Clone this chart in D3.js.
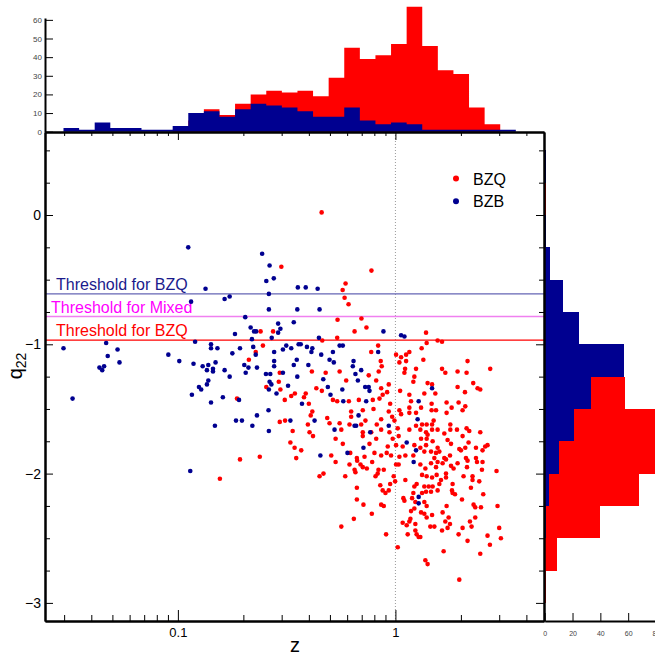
<!DOCTYPE html>
<html>
<head>
<meta charset="utf-8">
<script src="https://cdn.jsdelivr.net/npm/d3@7"></script>
<style>
  body { margin: 0; background: #fff; }
  svg { display: block; font-family: "Liberation Sans", Arial, Helvetica, sans-serif; }
</style>
</head>
<body>
<div id="vis"></div>
<script>
const FRAME_WIDTH = 655;
const FRAME_HEIGHT = 656;
const MAIN = {left: 45, right: 544, top: 132, bottom: 621};

// scatter data: [z, q22]
const bzqPoints = [
  [0.458,0.02],[0.299,-0.40],[0.240,-0.90],[0.274,-0.90],[0.228,-1.06],[0.246,-1.01],[0.212,-1.12],[0.294,-1.22],[0.255,-1.33],[0.291,-1.29],
  [0.296,-1.35],[0.310,-1.43],[0.332,-1.40],[0.345,-1.38],[0.187,-1.42],[0.294,-1.60],[0.311,-1.59],[0.337,-1.67],[0.329,-1.76],[0.344,-1.80],
  [0.350,-1.88],[0.193,-1.89],[0.238,-1.87],[0.156,-2.04],
  [0.590,-0.53],[0.572,-0.58],[0.584,-0.64],[0.609,-0.69],[0.776,-0.43],[0.698,-0.80],[0.542,-0.81],[0.736,-0.87],
  [0.461,-0.97],[0.540,-0.95],[0.649,-0.90],[0.833,-1.01],[0.774,-1.06],[1.007,-1.08],[1.062,-1.10],[1.120,-1.08],[1.159,-1.06],[1.043,-1.14],
  [1.120,-1.13],[0.856,-1.13],[0.865,-1.17],[1.108,-1.19],[1.244,-1.19],[0.413,-1.21],[0.478,-1.22],[0.554,-1.21],[0.838,-1.21],[0.754,-1.24],
  [1.100,-1.22],[1.222,-1.25],[0.594,-1.28],[0.816,-1.28],[0.932,-1.31],[1.209,-1.29],[0.433,-1.34],[0.459,-1.36],[0.860,-1.34],[0.916,-1.37],
  [1.051,-1.36],[0.387,-1.38],[0.380,-1.41],[0.516,-1.43],[0.540,-1.44],[0.611,-1.44],[0.679,-1.43],[0.787,-1.43],[0.845,-1.42],[0.874,-1.39],
  [1.159,-1.39],[1.180,-1.44],[0.400,-1.46],[0.793,-1.50],[0.946,-1.46],[1.043,-1.51],[1.159,-1.49],[0.415,-1.52],[0.408,-1.55],[0.626,-1.52],
  [0.708,-1.51],[0.932,-1.52],[1.062,-1.54],[1.159,-1.53],[1.244,-1.53],[0.626,-1.56],[0.728,-1.59],[0.860,-1.58],[0.966,-1.56],[0.990,-1.59],
  [0.486,-1.57],[0.396,-1.62],[0.498,-1.61],[0.554,-1.61],[0.615,-1.62],[0.696,-1.62],[0.821,-1.62],[1.244,-1.63],[1.025,-1.65],[0.403,-1.68],
  [0.564,-1.66],[0.708,-1.68],[0.774,-1.68],[0.860,-1.66],[0.939,-1.68],[1.159,-1.66],[0.418,-1.71],[0.531,-1.73],[0.708,-1.71],[0.816,-1.73],
  [0.972,-1.73],[1.035,-1.71],[0.573,-1.77],[0.760,-1.77],[0.922,-1.79],[1.007,-1.78],[1.080,-1.79],[1.222,-1.78],[0.369,-1.82],[0.507,-1.86],
  [0.620,-1.84],[0.721,-1.87],[0.665,-1.88],[0.801,-1.84],[0.860,-1.86],[0.912,-1.84],[0.955,-1.86],[1.043,-1.87],[1.111,-1.86],[1.209,-1.86],
  [1.383,-0.91],[1.563,-0.97],[1.638,-0.98],[1.392,-0.99],[1.320,-1.03],[1.344,-1.12],[1.638,-1.19],[1.696,-1.22],[1.931,-1.21],[2.124,-1.22],
  [2.146,-1.13],[2.728,-1.19],[1.406,-1.30],[1.474,-1.31],[1.358,-1.38],[1.526,-1.38],[1.931,-1.33],[2.088,-1.37],[2.279,-1.30],[2.386,-1.34],
  [2.455,-1.35],[1.467,-1.46],[1.719,-1.45],[1.813,-1.49],[1.952,-1.45],[2.095,-1.48],[2.036,-1.51],[1.467,-1.51],[1.537,-1.51],[1.719,-1.53],
  [1.312,-1.49],[1.499,-1.59],[1.326,-1.62],[1.392,-1.62],[1.474,-1.62],[1.788,-1.62],[2.124,-1.65],[2.185,-1.67],[1.302,-1.66],[1.383,-1.68],
  [1.474,-1.66],[1.563,-1.66],[1.678,-1.69],[1.788,-1.66],[1.919,-1.66],[2.455,-1.68],[1.312,-1.73],[1.406,-1.70],[1.392,-1.73],[1.483,-1.75],
  [1.737,-1.74],[1.801,-1.77],[2.036,-1.71],[2.169,-1.76],[2.587,-1.79],[2.651,-1.78],[1.383,-1.78],[1.563,-1.80],[1.302,-1.80],[1.358,-1.83],
  [1.458,-1.83],[1.537,-1.84],[1.592,-1.83],[1.966,-1.81],[2.095,-1.80],[2.346,-1.80],[1.782,-1.86],[2.001,-1.82],[2.515,-1.82],[1.510,-1.88],
  [1.678,-1.88],[2.110,-1.88],[2.346,-1.88],
  [0.531,-1.91],[0.615,-1.93],[0.667,-1.90],[0.691,-1.93],[0.708,-1.95],[0.739,-1.96],[0.782,-1.91],[0.649,-1.97],[0.655,-1.99],[0.836,-1.97],
  [0.884,-1.97],[0.829,-2.00],[0.810,-2.02],[0.448,-2.02],[0.467,-2.00],[0.588,-2.02],[1.007,-1.93],[1.035,-1.93],[0.982,-2.02],[0.997,-2.06],
  [1.111,-2.05],[0.946,-2.08],[0.852,-2.09],[0.665,-2.11],[0.874,-2.13],[0.900,-2.15],[0.932,-2.13],[1.222,-2.10],[1.252,-2.08],[1.209,-2.15],
  [1.193,-2.19],[1.088,-2.19],[1.100,-2.21],[0.665,-2.20],[0.713,-2.24],[0.860,-2.24],[0.884,-2.25],[1.235,-2.22],[1.222,-2.27],[1.180,-2.29],
  [0.779,-2.31],[0.644,-2.35],[0.564,-2.41],[1.080,-2.38],[1.127,-2.40],[1.159,-2.37],[1.172,-2.35],[1.235,-2.39],[1.235,-2.44],[1.252,-2.47],
  [1.139,-2.47],[0.906,-2.47],[1.025,-2.57],[1.279,-2.49],
  [1.302,-1.93],[1.373,-1.96],[1.458,-1.92],[1.537,-1.95],[1.563,-1.91],[1.648,-1.92],[1.708,-1.89],[1.801,-1.94],[1.851,-1.96],[1.931,-1.92],
  [2.133,-1.95],[2.146,-1.90],[2.371,-1.91],[2.515,-1.91],[2.499,-1.97],[2.916,-1.98],[1.326,-2.01],[1.392,-2.02],[1.474,-2.03],[1.547,-2.01],
  [1.708,-2.00],[1.708,-2.03],[2.057,-2.02],[2.262,-2.02],[2.262,-2.05],[2.429,-2.06],[1.620,-2.05],[1.592,-2.08],[1.832,-2.08],[1.358,-2.10],
  [1.422,-2.10],[1.483,-2.10],[1.383,-2.14],[1.458,-2.14],[1.326,-2.15],[1.563,-2.13],[1.820,-2.13],[1.832,-2.15],[1.879,-2.16],[2.224,-2.11],
  [2.534,-2.16],[1.358,-2.22],[1.392,-2.25],[2.023,-2.20],[1.719,-2.25],[2.287,-2.24],[2.328,-2.26],[2.473,-2.26],[2.947,-2.25],[1.312,-2.30],
  [1.358,-2.31],[1.474,-2.32],[1.392,-2.34],[1.648,-2.30],[1.756,-2.34],[1.696,-2.37],[1.782,-2.39],[2.201,-2.37],[2.328,-2.34],[1.447,-2.41],
  [1.510,-2.41],[1.638,-2.44],[1.737,-2.42],[2.036,-2.42],[2.239,-2.41],[3.000,-2.42],[1.302,-2.49],[1.952,-2.47],[2.651,-2.48],[3.054,-2.50],
  [2.146,-2.52],[2.719,-2.55],[1.666,-2.60],[2.455,-2.62],[1.373,-2.67],[1.406,-2.70],[1.966,-2.82]
];

const bzbPoints = [
  [0.0298,-1.03],[0.0468,-0.99],[0.0328,-1.42],[0.0528,-1.04],[0.0476,-1.09],[0.0436,-1.18],[0.0449,-1.20],[0.0458,-1.17],[0.0539,-1.14],
  [0.1116,-0.25],[0.244,-0.30],[0.264,-0.39],[0.255,-0.51],[0.276,-0.49],[0.134,-0.57],[0.262,-0.61],[0.356,-0.56],[0.115,-0.67],[0.164,-0.65],
  [0.173,-0.63],[0.262,-0.73],[0.354,-0.73],[0.204,-0.79],[0.341,-0.83],[0.289,-0.84],[0.216,-0.87],[0.296,-0.88],[0.224,-0.90],[0.229,-0.90],
  [0.183,-0.92],[0.289,-0.91],[0.270,-0.95],[0.219,-0.96],[0.120,-0.98],[0.142,-1.00],[0.142,-1.03],[0.152,-1.03],[0.193,-1.03],[0.222,-1.02],
  [0.315,-1.01],[0.332,-1.03],[0.359,-1.00],[0.0904,-1.08],[0.178,-1.07],[0.228,-1.08],[0.277,-1.06],[0.304,-1.04],[0.1015,-1.13],[0.118,-1.15],
  [0.149,-1.14],[0.130,-1.17],[0.138,-1.16],[0.136,-1.20],[0.145,-1.19],[0.145,-1.21],[0.164,-1.20],[0.202,-1.16],[0.211,-1.18],[0.231,-1.18],
  [0.277,-1.13],[0.277,-1.17],[0.352,-1.12],[0.341,-1.16],[0.173,-1.25],[0.205,-1.22],[0.254,-1.23],[0.266,-1.23],[0.304,-1.22],[0.354,-1.25],
  [0.138,-1.28],[0.136,-1.31],[0.125,-1.33],[0.128,-1.35],[0.264,-1.29],[0.269,-1.31],[0.262,-1.35],[0.284,-1.38],[0.321,-1.32],[0.116,-1.39],
  [0.161,-1.41],[0.191,-1.43],[0.142,-1.45],[0.261,-1.51],[0.231,-1.55],[0.185,-1.59],[0.197,-1.59],[0.220,-1.63],[0.148,-1.63],[0.329,-1.59],
  [0.262,-1.67],[0.114,-1.98],
  [0.387,-0.56],[0.439,-0.57],[0.448,-0.73],
  [0.445,-0.95],[0.367,-1.00],[0.392,-1.02],[0.415,-1.03],[0.411,-1.06],[0.554,-1.01],[0.573,-1.01],[0.516,-1.06],[0.456,-1.08],[0.881,-0.90],
  [1.100,-0.94],[1.062,-0.93],[0.833,-1.06],[0.498,-1.12],[0.521,-1.14],[0.642,-1.13],[0.637,-1.17],[0.398,-1.16],[0.696,-1.20],[0.655,-1.23],
  [0.466,-1.27],[0.672,-1.28],[0.489,-1.33],[0.570,-1.35],[0.726,-1.33],[0.754,-1.33],[0.760,-1.36],[0.503,-1.39],[0.372,-1.46],[0.576,-1.44],
  [0.734,-1.44],[1.279,-1.44],[0.425,-1.59],[0.649,-1.63],[0.660,-1.63],[0.525,-1.66],[0.677,-1.55],[0.932,-1.63],[0.766,-1.68],[1.265,-1.58],
  [1.127,-1.76],[1.244,-1.82],[0.452,-1.86],[0.602,-1.84],[0.713,-1.80],[1.474,-1.34],[1.213,-1.91],[1.279,-2.18],[1.279,-2.23]
];

// top histogram: log-spaced z bins
const zBinLow = 0.0298;
const zBinDex = 0.0717;   // bin width in decades
const topBZQ = [0,0,0,0,0,0,0,1,6,12,9,15,20,22,21,22,19,29,45,39,41,47,67,46,33,31,13,4,0];
const topBZB = [2,1,5,2,2,1,1,3,10,11,8,12,15,14,13,11,8,8,13,6,4,5,4,1,1,1,1,1,1];

// right histogram: q22 bins of 0.25, from 0.5 downwards
const qBinTop = 0.5;
const qBinWidth = 0.25;
const sideBZQ = [0,1,0,1,4,10,35,58,79,84,68,40,9,1];
const sideBZB = [1,0,1,4,13,25,57,33,21,10,3,1,0,0];

const thresholds = [
  {label: "Threshold for BZQ", value: -0.61, line: "#6464b4", text: "#1a1a8c"},
  {label: "Threshold for Mixed", value: -0.785, line: "#f080f0", text: "#ff00ff"},
  {label: "Threshold for BZQ", value: -0.968, line: "#ff0000", text: "#ff0000"}
];

const RED = "#ff0000";
const NAVY = "#000090";

const svg = d3.select("#vis").append("svg")
  .attr("width", FRAME_WIDTH)
  .attr("height", FRAME_HEIGHT);

const X = d3.scaleLog().domain([0.0245, 4.82]).range([MAIN.left, MAIN.right]);
const Y = d3.scaleLinear().domain([-3.14, 0.642]).range([MAIN.bottom, MAIN.top]);
const Y_TOP = d3.scaleLinear().domain([0, 61]).range([131.7, 18]);
const X_SIDE = d3.scaleLinear().domain([0, 80]).range([544.7, 656]);

// ---- top histogram
const zEdges = d3.range(topBZQ.length + 1).map(i => Math.pow(10, Math.log10(zBinLow) + i * zBinDex));
const stepArea = d3.area()
  .x(d => X(d[0]))
  .y0(Y_TOP(0))
  .y1(d => Y_TOP(d[1]))
  .curve(d3.curveStepAfter);
function topSeries(counts) {
  const pts = counts.map((c, i) => [zEdges[i], c]);
  pts.push([zEdges[counts.length], counts[counts.length - 1]]);
  return pts;
}
svg.append("path").attr("d", stepArea(topSeries(topBZQ))).attr("fill", RED);
svg.append("path").attr("d", stepArea(topSeries(topBZB))).attr("fill", NAVY);

const topAxis = svg.append("g")
  .attr("transform", `translate(${MAIN.left},0)`)
  .call(d3.axisLeft(Y_TOP).tickValues([0,10,20,30,40,50,60]).tickSize(-8).tickSizeOuter(0).tickPadding(3));
topAxis.selectAll("text").attr("font-size", 8).attr("fill", "#444");

// ---- right histogram
function sideRects(counts, color) {
  svg.append("g").selectAll("rect")
    .data(counts)
    .join("rect")
    .attr("x", X_SIDE(0))
    .attr("y", (d, i) => Y(qBinTop - i * qBinWidth))
    .attr("width", d => X_SIDE(d) - X_SIDE(0))
    .attr("height", (d, i) => Y(qBinTop - (i + 1) * qBinWidth) - Y(qBinTop - i * qBinWidth))
    .attr("fill", color)
    .attr("shape-rendering", "crispEdges");
}
sideRects(sideBZQ, RED);
sideRects(sideBZB, NAVY);

const sideAxis = svg.append("g")
  .attr("transform", `translate(0,${MAIN.bottom})`)
  .call(d3.axisBottom(X_SIDE).tickValues([0,20,40,60,80]).tickSize(-8).tickSizeOuter(0).tickPadding(10));
sideAxis.selectAll("text").attr("font-size", 7).attr("fill", "#444");

// ---- main scatter
svg.append("line")
  .attr("x1", X(1)).attr("x2", X(1))
  .attr("y1", MAIN.top).attr("y2", MAIN.bottom)
  .attr("stroke", "#999").attr("stroke-dasharray", "1,2");

thresholds.forEach((t, i) => {
  svg.append("line")
    .attr("x1", MAIN.left).attr("x2", MAIN.right)
    .attr("y1", Y(t.value)).attr("y2", Y(t.value))
    .attr("stroke", t.line).attr("stroke-width", 1.3);
  svg.append("text")
    .attr("x", i === 1 ? 51 : 56)
    .attr("y", Y(t.value) - 4)
    .attr("font-size", 16)
    .attr("fill", t.text)
    .text(t.label);
});

svg.append("g").selectAll("circle")
  .data(bzqPoints)
  .join("circle")
  .attr("cx", d => X(d[0]))
  .attr("cy", d => Y(d[1]))
  .attr("r", 2.3)
  .attr("fill", RED);

svg.append("g").selectAll("circle")
  .data(bzbPoints)
  .join("circle")
  .attr("cx", d => X(d[0]))
  .attr("cy", d => Y(d[1]))
  .attr("r", 2.3)
  .attr("fill", NAVY);

// axes of the main frame
const xMinor = [0.03,0.04,0.05,0.06,0.07,0.08,0.09,0.2,0.3,0.4,0.5,0.6,0.7,0.8,0.9,2,3,4];
const yMinor = d3.range(0.5, -3.01, -0.25).filter(v => Math.abs(v - Math.round(v)) > 0.01);
const yMajor = [0, -1, -2, -3];

const bottom = svg.append("g").attr("transform", `translate(0,${MAIN.bottom})`);
bottom.call(d3.axisBottom(X).tickValues([0.1, 1]).tickFormat(d3.format("")).tickSize(-11).tickSizeOuter(0).tickPadding(7));
bottom.append("g").call(d3.axisBottom(X).tickValues(xMinor).tickFormat("").tickSize(-6).tickSizeOuter(0));
bottom.selectAll("text").attr("font-size", 13).attr("fill", "#000");

const topEdge = svg.append("g").attr("transform", `translate(0,${MAIN.top})`);
topEdge.call(d3.axisTop(X).tickValues([0.1, 1]).tickFormat("").tickSize(-8).tickSizeOuter(0));
topEdge.append("g").call(d3.axisTop(X).tickValues(xMinor).tickFormat("").tickSize(-4).tickSizeOuter(0));

const left = svg.append("g").attr("transform", `translate(${MAIN.left},0)`);
left.call(d3.axisLeft(Y).tickValues(yMajor).tickFormat(d3.format("d")).tickSize(-8).tickSizeOuter(0).tickPadding(4));
left.append("g").call(d3.axisLeft(Y).tickValues(yMinor).tickFormat("").tickSize(-5).tickSizeOuter(0));
left.selectAll("text").attr("font-size", 14).attr("fill", "#000");

const right = svg.append("g").attr("transform", `translate(${MAIN.right},0)`);
right.call(d3.axisRight(Y).tickValues(yMajor).tickFormat("").tickSize(-8).tickSizeOuter(0));
right.append("g").call(d3.axisRight(Y).tickValues(yMinor).tickFormat("").tickSize(-5).tickSizeOuter(0));

svg.selectAll(".domain").attr("stroke", "#000").attr("stroke-width", 2);
svg.selectAll(".tick line").attr("stroke", "#000");

// axis titles
svg.append("text")
  .attr("x", 295)
  .attr("y", 652)
  .attr("text-anchor", "middle")
  .attr("font-size", 20)
  .text("z");

const yTitle = svg.append("text")
  .attr("transform", "translate(22,366) rotate(-90)")
  .attr("text-anchor", "middle")
  .attr("font-size", 20);
yTitle.append("tspan").text("q");
yTitle.append("tspan").attr("font-size", 14).attr("dy", 4).text("22");

// legend
const legend = [{name: "BZQ", color: RED}, {name: "BZB", color: NAVY}];
const lg = svg.append("g");
lg.selectAll("circle").data(legend).join("circle")
  .attr("cx", 456).attr("cy", (d, i) => 178.5 + i * 22.7)
  .attr("r", 3).attr("fill", d => d.color);
lg.selectAll("text").data(legend).join("text")
  .attr("x", 473).attr("y", (d, i) => 184.5 + i * 22.7)
  .attr("font-size", 16)
  .text(d => d.name);
</script>
</body>
</html>
